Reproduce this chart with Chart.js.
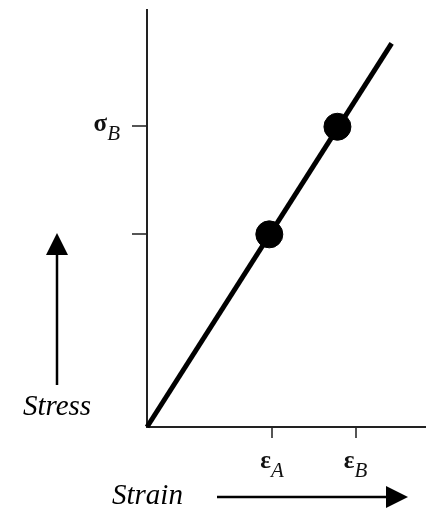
<!DOCTYPE html>
<html>
<head>
<meta charset="utf-8">
<script src="https://cdn.jsdelivr.net/npm/chart.js@4.4.1/dist/chart.umd.min.js"></script>
<style>
  html, body { margin: 0; padding: 0; background: #fff; }
  #wrap { width: 431px; height: 509px; }
</style>
</head>
<body>
<div id="wrap"><canvas id="c"></canvas></div>
<script>
// Linear elastic stress–strain line and two marked states A and B
const lineStrain = [0, 8.8];
const lineStress = [0, 9.2];
const pointStrain = [4.4, 6.85];
const pointStress = [4.62, 7.2];

// Axis tick positions and their symbols (base glyph + italic subscript)
const strainTicks = [4.5, 7.5];
const strainTickLabels = [['ε', 'A'], ['ε', 'B']];
const stressTicks = [4.62, 7.22];
const stressTickLabels = [null, ['σ', 'B']];

const axisTitles = { x: 'Strain', y: 'Stress' };

const SERIF = '"Liberation Serif", "DejaVu Serif", serif';

function drawSymbol(ctx, parts, x, y, align) {
  const [base, sub] = parts;
  const baseFont = 'bold 25px ' + SERIF;
  const subFont = 'italic 21px ' + SERIF;
  ctx.save();
  ctx.fillStyle = '#111';
  ctx.textBaseline = 'alphabetic';
  ctx.font = baseFont;
  const wb = ctx.measureText(base).width;
  ctx.font = subFont;
  const ws = ctx.measureText(sub).width;
  const total = wb + ws;
  const x0 = align === 'center' ? x - total / 2 : (align === 'right' ? x - total : x);
  ctx.textAlign = 'left';
  ctx.font = baseFont;
  ctx.fillText(base, x0, y);
  ctx.font = subFont;
  ctx.fillText(sub, x0 + wb, y + 9);
  ctx.restore();
}

function arrowHead(ctx, tipX, tipY, dir, len, half) {
  ctx.beginPath();
  if (dir === 'up') {
    ctx.moveTo(tipX, tipY);
    ctx.lineTo(tipX - half, tipY + len);
    ctx.lineTo(tipX + half, tipY + len);
  } else {
    ctx.moveTo(tipX, tipY);
    ctx.lineTo(tipX - len, tipY - half);
    ctx.lineTo(tipX - len, tipY + half);
  }
  ctx.closePath();
  ctx.fill();
}

const annotations = {
  id: 'annotations',
  afterDraw(chart) {
    const ctx = chart.ctx;
    const xs = chart.scales.x, ys = chart.scales.y;
    // tick symbols
    strainTicks.forEach((v, i) => {
      const lab = strainTickLabels[i];
      if (lab) drawSymbol(ctx, lab, xs.getPixelForValue(v), ys.bottom + 41, 'center');
    });
    stressTicks.forEach((v, i) => {
      const lab = stressTickLabels[i];
      if (lab) drawSymbol(ctx, lab, xs.left - 27, ys.getPixelForValue(v) + 5, 'right');
    });

    ctx.save();
    ctx.fillStyle = '#000';
    ctx.strokeStyle = '#000';
    ctx.lineWidth = 2.5;
    // Stress title with upward arrow
    ctx.font = 'italic 29px ' + SERIF;
    ctx.textAlign = 'center';
    ctx.textBaseline = 'alphabetic';
    ctx.fillText(axisTitles.y, 57, 415);
    ctx.beginPath();
    ctx.moveTo(57, 385);
    ctx.lineTo(57, 250);
    ctx.stroke();
    arrowHead(ctx, 57, 233, 'up', 22, 11);
    // Strain title with rightward arrow
    ctx.textAlign = 'left';
    ctx.fillText(axisTitles.x, 112, 504);
    ctx.beginPath();
    ctx.moveTo(217, 497);
    ctx.lineTo(392, 497);
    ctx.stroke();
    arrowHead(ctx, 408, 497, 'right', 22, 11);
    ctx.restore();
  }
};

new Chart(document.getElementById('c'), {
  type: 'scatter',
  data: {
    datasets: [
      {
        type: 'line',
        data: lineStrain.map((x, i) => ({ x, y: lineStress[i] })),
        borderColor: '#000',
        borderWidth: 5,
        pointRadius: 0,
        showLine: true,
        borderCapStyle: 'butt',
        clip: false
      },
      {
        data: pointStrain.map((x, i) => ({ x, y: pointStress[i] })),
        backgroundColor: '#000',
        borderColor: '#000',
        pointRadius: 13.5,
        clip: false
      }
    ]
  },
  options: {
    responsive: true,
    maintainAspectRatio: false,
    animation: false,
    events: [],
    layout: { autoPadding: false, padding: { left: 132, right: 6, top: 10, bottom: 71 } },
    plugins: { legend: { display: false }, tooltip: { enabled: false } },
    scales: {
      x: {
        type: 'linear', min: 0, max: 10,
        afterBuildTicks: s => { s.ticks = strainTicks.map(v => ({ value: v })); },
        afterFit: s => { s.height = 11; },
        ticks: { display: false },
        grid: { drawOnChartArea: false, drawTicks: true, tickLength: 11, color: '#555', lineWidth: 2 },
        border: { display: true, color: '#222', width: 2 }
      },
      y: {
        type: 'linear', min: 0, max: 10,
        afterBuildTicks: s => { s.ticks = stressTicks.map(v => ({ value: v })); },
        afterFit: s => { s.width = 15; },
        ticks: { display: false },
        grid: { drawOnChartArea: false, drawTicks: true, tickLength: 15, color: '#555', lineWidth: 2 },
        border: { display: true, color: '#222', width: 2 }
      }
    }
  },
  plugins: [annotations]
});
</script>
</body>
</html>
